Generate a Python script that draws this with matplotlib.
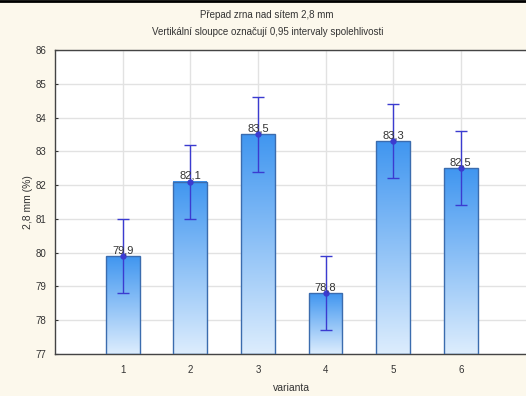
import numpy as np
import matplotlib
matplotlib.use('Agg')
import matplotlib.pyplot as plt
from matplotlib.colors import LinearSegmentedColormap
from matplotlib.lines import Line2D

plt.rcParams['font.family'] = ['Liberation Sans', 'DejaVu Sans']

# data
varianty = [1, 2, 3, 4, 5, 6]
prumer = [79.9, 82.1, 83.5, 78.8, 83.3, 82.5]
ci_pulka = [1.1, 1.1, 1.1, 1.1, 1.1, 1.1]
popisky = ['79.9', '82.1', '83.5', '78.8', '83.3', '82.5']
y_ticks = [77, 78, 79, 80, 81, 82, 83, 84, 85, 86]

bg = '#fcf8ec'
fig = plt.figure(figsize=(5.26, 3.96), dpi=100, facecolor=bg)
ax = fig.add_axes([0.1046, 0.106, 0.90, 0.7677])
ax.set_facecolor('white')

ymin, ymax = 77, 86
ax.set_xlim(0, 7)
ax.set_ylim(ymin, ymax)

# gradient bars
cmap = LinearSegmentedColormap.from_list('modra', ['#ddedfd', '#4096f0'])
grad = np.linspace(0, 1, 256).reshape(-1, 1)
w = 0.5
for x, v in zip(varianty, prumer):
    ax.imshow(grad, extent=[x - w / 2, x + w / 2, ymin, v], origin='lower',
              cmap=cmap, aspect='auto', zorder=2)
    ax.bar(x, v - ymin, bottom=ymin, width=w, fill=False,
           edgecolor='#3b6cae', linewidth=1.0, zorder=3)

# confidence intervals
ax.errorbar(varianty, prumer, yerr=ci_pulka, fmt='o', color='#3b3bd0',
            ms=3.5, elinewidth=1.0, capsize=4, capthick=1.0, zorder=4)

for x, v, t in zip(varianty, prumer, popisky):
    ax.text(x, v + 0.03, t.replace('.', ','), ha='center', va='bottom',
            fontsize=8, color='#333333', zorder=5)

ax.set_xticks(varianty)
ax.set_yticks(y_ticks)
ax.tick_params(labelsize=7, length=2, colors='#333333', direction='in')
ax.tick_params(axis='x', pad=8)
ax.tick_params(axis='y', pad=6)
ax.grid(True, color='#e2e2e2', linewidth=1.0, zorder=0)
ax.set_axisbelow(True)
for s in ['left', 'bottom', 'top']:
    ax.spines[s].set_color('#444444')
    ax.spines[s].set_linewidth(1.0)
ax.spines['right'].set_visible(False)

ax.set_xlabel('varianta', fontsize=7.5, color='#333333', labelpad=6)
ax.set_ylabel('2,8 mm (%)', fontsize=7.5, color='#333333', labelpad=2)

fig.text(0.508, 0.962, 'Přepad zrna nad sítem 2,8 mm', ha='center', va='center',
         fontsize=7, color='#333333')
fig.text(0.508, 0.92, 'Vertikální sloupce označují 0,95 intervaly spolehlivosti',
         ha='center', va='center', fontsize=7, color='#333333')

# black line along the top edge
fig.add_artist(Line2D([0, 1], [0.997, 0.997], transform=fig.transFigure,
                      color='black', linewidth=2))

fig.savefig('out.png', dpi=100, facecolor=bg)
